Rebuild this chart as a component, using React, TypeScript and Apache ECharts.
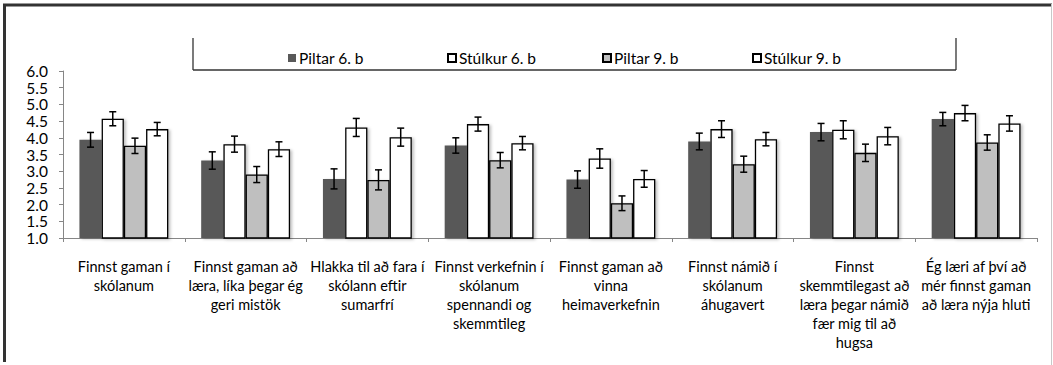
import React, { useEffect, useRef } from "react";
import * as echarts from "echarts";

const categories = [
  "Finnst gaman í\nskólanum",
  "Finnst gaman að\nlæra, líka þegar ég\ngeri mistök",
  "Hlakka til að fara í\nskólann eftir\nsumarfrí",
  "Finnst verkefnin í\nskólanum\nspennandi og\nskemmtileg",
  "Finnst gaman að\nvinna\nheimaverkefnin",
  "Finnst námið í\nskólanum\náhugavert",
  "Finnst\nskemmtilegast að\nlæra þegar námið\nfær mig til að\nhugsa",
  "Ég læri af því að\nmér finnst gaman\nað læra nýja hluti",
];

const seriesNames = ["Piltar 6. b", "Stúlkur 6. b", "Piltar 9. b", "Stúlkur 9. b"];

const piltar6 = [3.94, 3.32, 2.77, 3.77, 2.75, 3.89, 4.17, 4.56];
const stulkur6 = [4.57, 3.81, 4.31, 4.41, 3.38, 4.26, 4.24, 4.74];
const piltar9 = [3.76, 2.9, 2.74, 3.33, 2.04, 3.21, 3.55, 3.86];
const stulkur9 = [4.26, 3.66, 4.02, 3.84, 2.77, 3.96, 4.05, 4.43];

const piltar6Err = [0.22, 0.26, 0.3, 0.23, 0.26, 0.25, 0.26, 0.2];
const stulkur6Err = [0.21, 0.24, 0.27, 0.21, 0.29, 0.25, 0.27, 0.23];
const piltar9Err = [0.23, 0.24, 0.3, 0.23, 0.22, 0.24, 0.26, 0.23];
const stulkur9Err = [0.2, 0.22, 0.27, 0.2, 0.25, 0.2, 0.26, 0.23];

const yTicks = { min: 1, max: 6, interval: 0.5 };

const FONT = "Lato";
const CAT_GAP = 0.27;

const values = [piltar6, stulkur6, piltar9, stulkur9];
const errors = [piltar6Err, stulkur6Err, piltar9Err, stulkur9Err];
const fills = ["#595959", "#ffffff", "#bfbfbf", "#ffffff"];
const borders = ["#595959", "#000000", "#000000", "#000000"];
const legendLeft = [283, 442, 597, 747];

export default function App() {
  const ref = useRef<HTMLDivElement>(null);
  useEffect(() => {
    document.body.style.margin = "0";
    const chart = echarts.init(ref.current!, null, { renderer: "svg" });

    const barSeries = seriesNames.map((name, s) => ({
      name,
      type: "bar",
      data: values[s],
      barGap: "0%",
      barCategoryGap: CAT_GAP * 100 + "%",
      itemStyle: {
        color: fills[s],
        borderColor: borders[s],
        borderWidth: s === 0 ? 0 : 1.3,
        shadowColor: "rgba(0,0,0,0.25)",
        shadowBlur: 3,
        shadowOffsetX: 2,
        shadowOffsetY: 1,
      },
      z: 2,
    }));

    const errSeries = seriesNames.map((name, s) => ({
      name: name + " err",
      type: "custom",
      z: 5,
      data: values[s].map((v, i) => [i, v, errors[s][i]]),
      encode: { x: 0, y: 1 },
      renderItem: (params: any, api: any) => {
        const ci = api.value(0);
        const v = api.value(1);
        const e = api.value(2);
        const bandWidth = api.size([1, 0])[0];
        const barW = (bandWidth * (1 - CAT_GAP)) / 4;
        const c = api.coord([ci, v]);
        const hi = api.coord([ci, v + e]);
        const lo = api.coord([ci, v - e]);
        const x = c[0] + (s - 1.5) * barW;
        const cap = 3.5;
        const st = { stroke: "#000", lineWidth: 1.5 };
        return {
          type: "group",
          children: [
            { type: "line", shape: { x1: x, y1: hi[1], x2: x, y2: lo[1] }, style: st },
            { type: "line", shape: { x1: x - cap, y1: hi[1], x2: x + cap, y2: hi[1] }, style: st },
            { type: "line", shape: { x1: x - cap, y1: lo[1], x2: x + cap, y2: lo[1] }, style: st },
          ],
        };
      },
    }));

    chart.setOption({
      animation: false,
      backgroundColor: "#ffffff",
      textStyle: { fontFamily: FONT },
      grid: { left: 63, right: 16, top: 71, bottom: 127, containLabel: false },
      legend: seriesNames.map((name, s) => ({
        data: [{ name, icon: "rect" }],
        left: legendLeft[s],
        top: 45,
        itemWidth: 8,
        itemHeight: 8,
        itemGap: 0,
        textStyle: { fontSize: 15.5, color: "#000", fontFamily: FONT, padding: [0, 0, 0, -2] },
        selectedMode: false,
      })),
      xAxis: {
        type: "category",
        data: categories,
        axisLine: { lineStyle: { color: "#868686", width: 1 } },
        axisTick: { show: true, interval: 0, length: 4, lineStyle: { color: "#868686" } },
        axisLabel: {
          interval: 0,
          fontSize: 14.5,
          lineHeight: 19,
          color: "#000",
          fontFamily: FONT,
          margin: 19,
          align: "center",
          verticalAlign: "top",
        },
      },
      yAxis: {
        type: "value",
        min: yTicks.min,
        max: yTicks.max,
        interval: yTicks.interval,
        axisLine: { show: true, lineStyle: { color: "#868686", width: 1 } },
        axisTick: { show: true, length: 4, lineStyle: { color: "#868686" } },
        splitLine: { show: false },
        axisLabel: {
          fontSize: 15.5,
          lineHeight: 15,
          color: "#000",
          fontFamily: FONT,
          margin: 15,
          formatter: (v: number) => v.toFixed(1),
        },
      },
      graphic: [
        { type: "line", shape: { x1: 3, y1: 5, x2: 1052, y2: 5 }, style: { stroke: "#333", lineWidth: 3 } },
        { type: "line", shape: { x1: 4.5, y1: 4, x2: 4.5, y2: 362 }, style: { stroke: "#333", lineWidth: 3 } },
        { type: "line", shape: { x1: 1051.5, y1: 4, x2: 1051.5, y2: 365 }, style: { stroke: "#c8c8c8", lineWidth: 1 } },
        { type: "line", shape: { x1: 193, y1: 38, x2: 193, y2: 70 }, style: { stroke: "#333", lineWidth: 1.3 } },
        { type: "line", shape: { x1: 193, y1: 70, x2: 956, y2: 70 }, style: { stroke: "#333", lineWidth: 1.6 } },
        { type: "line", shape: { x1: 956, y1: 38, x2: 956, y2: 70 }, style: { stroke: "#333", lineWidth: 1.3 } },
      ],
      series: [...barSeries, ...errSeries],
    });
    return () => chart.dispose();
  }, []);
  return <div ref={ref} style={{ width: 1053, height: 365 }} />;
}
